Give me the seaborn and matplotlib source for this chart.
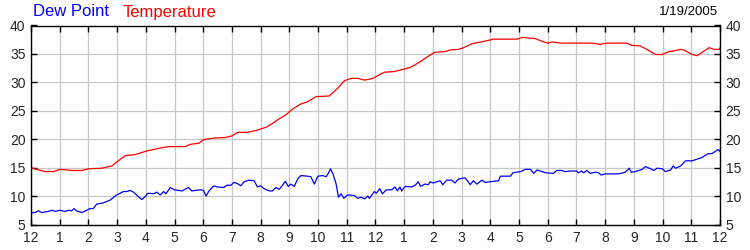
import matplotlib
matplotlib.use("Agg")
import matplotlib.pyplot as plt
import seaborn as sns
import pandas as pd

# Temperature readings (hour of day, value)
temp_hours = [0, 0.49, 0.78, 1.01, 1.42, 1.77, 2.01, 2.47, 2.82, 3.01, 3.29, 3.64, 4.01, 4.45, 4.79,
              5.37, 5.55, 5.85, 6.0, 6.1, 6.37, 6.78, 7.01, 7.19, 7.54, 7.89, 8.24, 8.59, 8.88, 9.11,
              9.4, 9.64, 9.93, 10.39, 10.69, 10.92, 11.15, 11.38, 11.62, 11.91, 12.2, 12.33, 12.66,
              12.97, 13.2, 13.49, 13.78, 14.07, 14.42, 14.6, 14.89, 15.07, 15.36, 15.77, 16.11,
              16.93, 17.11, 17.57, 17.86, 18.0, 18.14, 18.49, 19.54, 19.83, 20.06, 20.76, 20.94,
              21.23, 21.52, 21.75, 21.99, 22.22, 22.45, 22.63, 22.74, 23.03, 23.21, 23.38, 23.62,
              23.79, 23.97, 24.0]
temp_values = [15.0, 14.3, 14.3, 14.7, 14.5, 14.5, 14.8, 14.9, 15.3, 16.1, 17.1, 17.3, 17.9, 18.4, 18.7,
               18.7, 19.1, 19.3, 19.9, 20.0, 20.2, 20.3, 20.6, 21.2, 21.2, 21.6, 22.2, 23.4, 24.3, 25.3,
               26.2, 26.6, 27.5, 27.6, 29.0, 30.3, 30.7, 30.7, 30.4, 30.7, 31.5, 31.8, 31.9,
               32.3, 32.6, 33.4, 34.4, 35.3, 35.4, 35.7, 35.8, 36.1, 36.8, 37.2, 37.6,
               37.6, 37.9, 37.7, 37.1, 36.9, 37.1, 36.9, 36.9, 36.7, 36.9, 36.9, 36.5,
               36.4, 35.6, 34.9, 34.9, 35.4, 35.6, 35.8, 35.7, 34.9, 34.7, 35.3, 36.1,
               35.8, 35.8, 36.1]

# Dew point readings (hour of day, value)
dew_hours = [0, 0.14, 0.26, 0.37, 0.6, 0.74, 0.84, 1.01, 1.19, 1.3, 1.42, 1.5, 1.59, 1.77, 1.94,
             2.06, 2.17, 2.29, 2.52, 2.76, 2.95, 3.1, 3.22, 3.34, 3.45, 3.57, 3.74, 3.86, 3.98,
             4.07, 4.27, 4.38, 4.5, 4.62, 4.7, 4.85, 5.0, 5.14, 5.26, 5.37, 5.49, 5.6, 5.72, 5.9,
             6.01, 6.1, 6.2, 6.37, 6.49, 6.72, 6.82, 6.96, 7.07, 7.19, 7.31, 7.42, 7.6, 7.77,
             7.89, 8.0, 8.12, 8.3, 8.41, 8.53, 8.65, 8.76, 8.86, 8.96, 9.05, 9.17, 9.29, 9.4,
             9.64, 9.75, 9.87, 9.99, 10.16, 10.28, 10.36, 10.43, 10.51, 10.63, 10.71, 10.8, 10.9,
             11.03, 11.27, 11.38, 11.5, 11.62, 11.73, 11.79, 11.96, 12.03, 12.15, 12.24, 12.38,
             12.56, 12.68, 12.76, 12.85, 12.91, 13.03, 13.26, 13.38, 13.49, 13.57, 13.72, 13.84,
             13.9, 14.02, 14.13, 14.25, 14.34, 14.48, 14.66, 14.77, 14.89, 15.12, 15.22, 15.3,
             15.41, 15.53, 15.71, 15.82, 16.11, 16.29, 16.35, 16.7, 16.79, 17.05, 17.22, 17.4,
             17.51, 17.63, 17.92, 18.2, 18.31, 18.49, 18.61, 18.78, 19.01, 19.07, 19.17, 19.25,
             19.36, 19.48, 19.66, 19.77, 19.86, 20.0, 20.47, 20.7, 20.84, 20.91, 21.05, 21.29,
             21.4, 21.58, 21.69, 21.81, 21.99, 22.1, 22.28, 22.37, 22.45, 22.63, 22.8, 23.03,
             23.21, 23.38, 23.56, 23.73, 23.85, 23.94, 24.0]
dew_values = [7.1, 7.1, 7.4, 7.1, 7.3, 7.5, 7.3, 7.5, 7.3, 7.5, 7.4, 7.8, 7.4, 7.1, 7.5,
              7.8, 7.8, 8.6, 8.8, 9.3, 10.1, 10.5, 10.8, 10.8, 11.0, 10.7, 9.9, 9.4, 9.9,
              10.5, 10.4, 10.7, 10.2, 10.8, 10.4, 11.5, 11.1, 11.0, 10.9, 11.2, 11.5, 10.9, 11.0, 11.1,
              11.0, 10.0, 10.9, 11.8, 11.6, 11.5, 11.9, 11.9, 12.4, 12.2, 11.8, 12.5, 12.8, 12.7,
              11.6, 11.8, 11.3, 10.9, 10.9, 11.5, 11.2, 11.9, 12.6, 11.7, 12.1, 11.7, 13.0, 13.6,
              13.5, 13.4, 12.1, 13.5, 13.6, 13.4, 14.0, 14.8, 14.0, 12.1, 9.8, 10.4, 9.6,
              10.2, 10.1, 9.6, 9.8, 9.5, 10.0, 9.6, 10.8, 10.5, 11.3, 10.4, 11.1,
              11.1, 11.6, 10.9, 11.6, 10.9, 11.7, 11.6, 11.9, 12.5, 11.7, 12.1, 12.0,
              12.5, 12.3, 12.5, 12.7, 12.0, 12.8, 12.8, 12.3, 13.0, 13.2, 12.6, 12.0,
              12.7, 12.1, 12.8, 12.4, 12.6, 12.7, 13.5, 13.5, 14.1, 14.3, 14.7, 14.7,
              14.0, 14.6, 14.1, 14.0, 14.5, 14.5, 14.3, 14.4, 14.4, 14.1, 14.4, 14.1,
              14.5, 14.0, 14.2, 14.1, 13.7, 13.9, 13.9, 14.2, 14.9, 14.2, 14.3, 14.7,
              15.2, 14.8, 14.5, 14.9, 14.8, 14.3, 14.6, 15.3, 14.9, 15.3, 16.2, 16.2,
              16.5, 16.8, 17.4, 17.5, 17.9, 18.2, 17.8]

x_tick_labels = ["12", "1", "2", "3", "4", "5", "6", "7", "8", "9", "10", "11",
                 "12", "1", "2", "3", "4", "5", "6", "7", "8", "9", "10", "11", "12"]
y_ticks = [5, 10, 15, 20, 25, 30, 35, 40]
date_label = "1/19/2005"

sns.set_style("white")
plt.rcParams["font.family"] = ["Liberation Sans", "DejaVu Sans"]

temp_df = pd.DataFrame({"hour": temp_hours, "value": temp_values})
dew_df = pd.DataFrame({"hour": dew_hours, "value": dew_values})

fig = plt.figure(figsize=(7.5, 2.5), dpi=100)
ax = fig.add_axes([0.0413, 0.102, 0.9187, 0.796])

sns.lineplot(data=temp_df, x="hour", y="value", ax=ax, color="#ff0000", linewidth=0.9,
             estimator=None, sort=False)
sns.lineplot(data=dew_df, x="hour", y="value", ax=ax, color="#0000ff", linewidth=0.9,
             estimator=None, sort=False)

ax.set_xlim(0, 24)
ax.set_ylim(5, 40)
ax.set_xticks(range(25))
ax.set_xticklabels(x_tick_labels)
ax.set_yticks(y_ticks)
ax.set_xlabel("")
ax.set_ylabel("")
ax.grid(True, color="#c8c8c8", linewidth=0.9)
ax.set_axisbelow(True)
for s in ax.spines.values():
    s.set_color("black")
    s.set_linewidth(1.0)
ax.tick_params(axis="x", direction="in", length=4, width=1, top=True, bottom=True,
               labelsize=10, pad=5, color="black")
ax.tick_params(axis="y", direction="in", length=4, width=1, left=True, right=True,
               labelleft=True, labelright=True, labelsize=10, pad=4, color="black")

fig.text(33 / 750, 1 - 12 / 250, "Dew Point", color="#0000ff", fontsize=12, va="center", ha="left")
fig.text(123 / 750, 1 - 12 / 250, "Temperature", color="#ff0000", fontsize=12, va="center", ha="left")
fig.text(718 / 750, 1 - 12 / 250, date_label, color="black", fontsize=9.5, va="center", ha="right")

fig.savefig("out.png", dpi=100)
